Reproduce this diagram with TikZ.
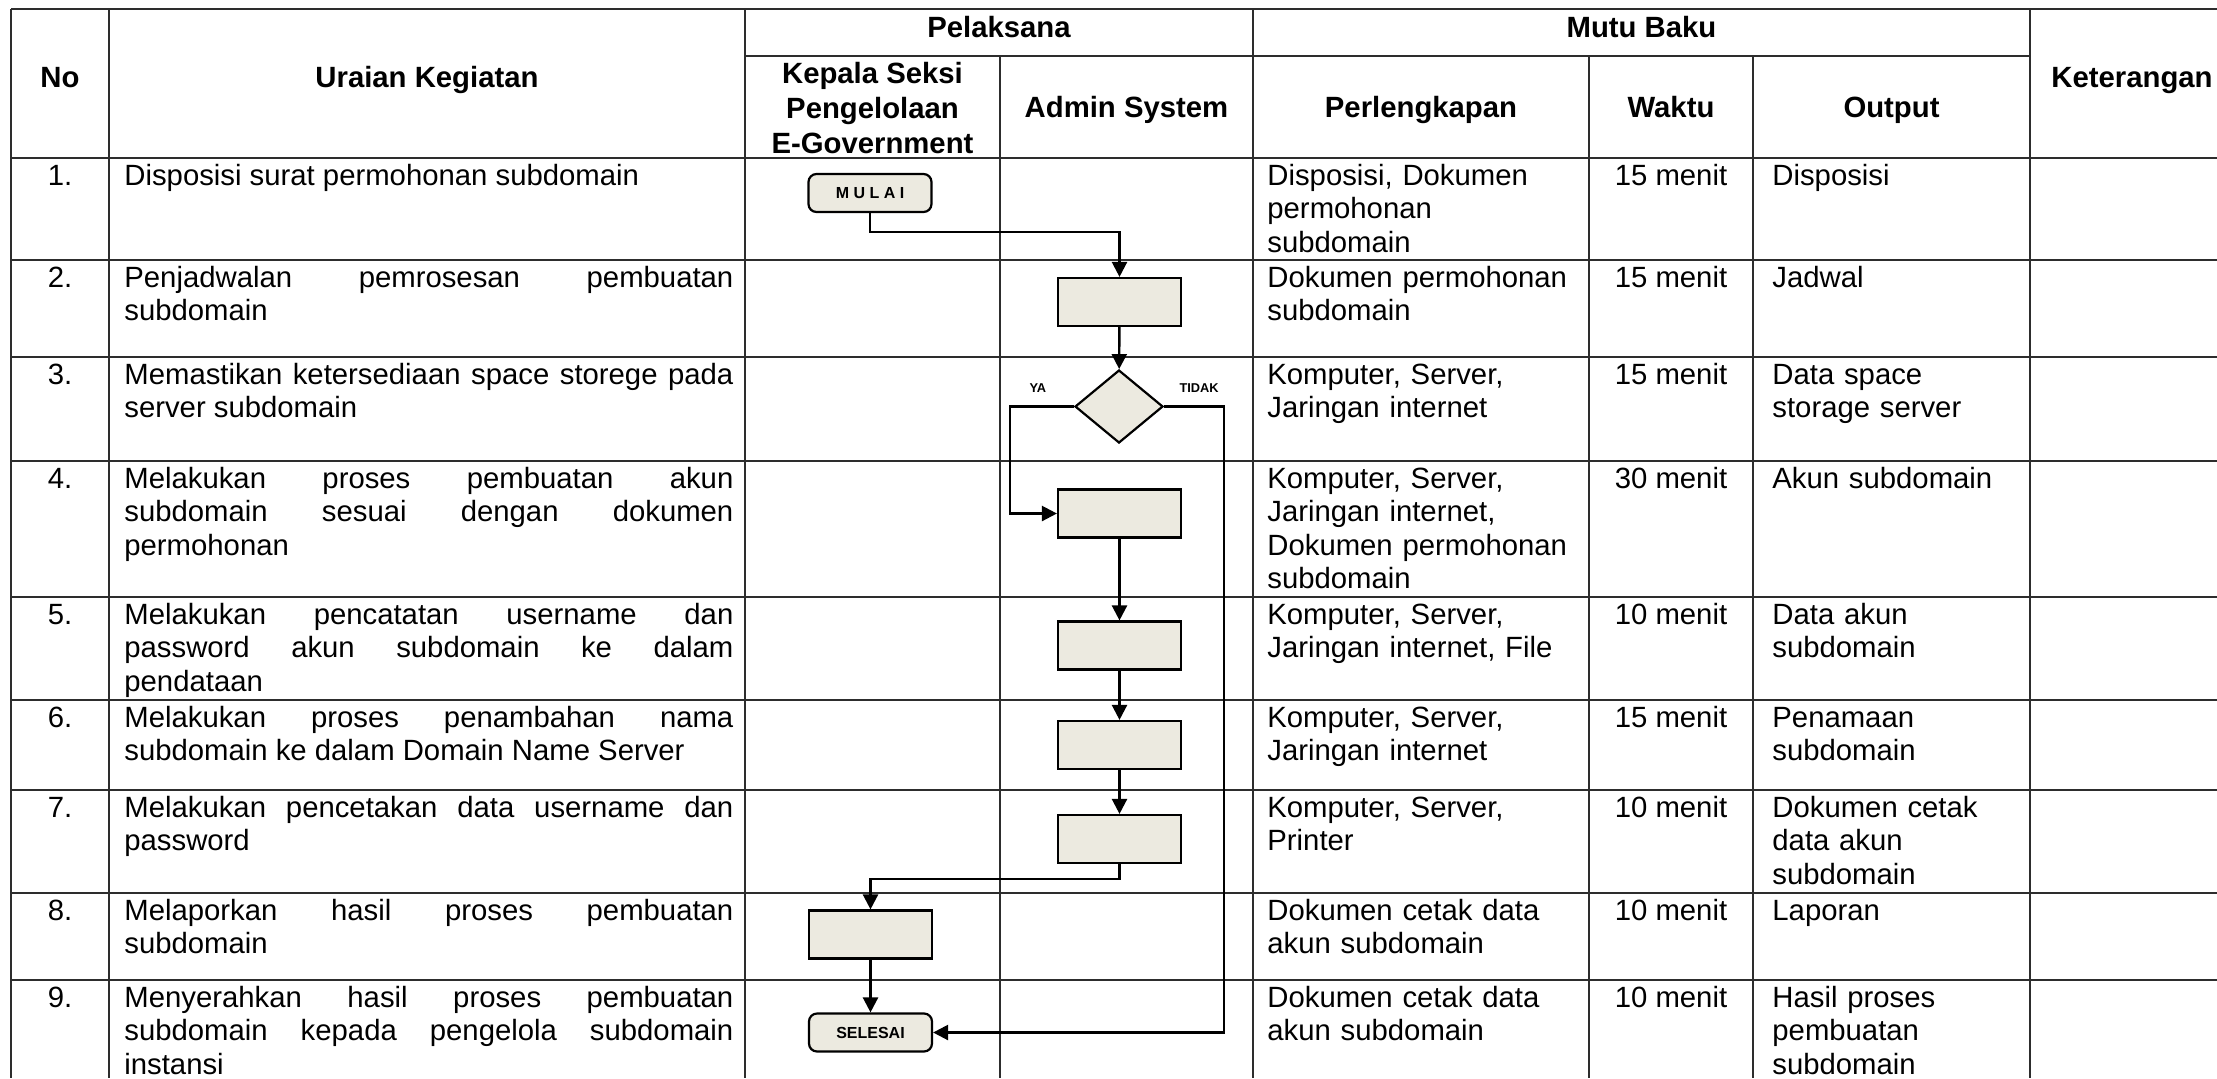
\documentclass[tikz,border=0pt]{standalone}
\usepackage{fontspec}
\setmainfont{Liberation Sans}
\usetikzlibrary{arrows.meta, shapes.geometric}
\definecolor{isian}{RGB}{236,234,224}
\definecolor{garis}{RGB}{45,45,45}
\hyphenpenalty=10000
\exhyphenpenalty=10000
\hbadness=10000
\tikzset{
    tabel/.style={draw=garis, line width=0.9pt},
    isi/.style={inner sep=0pt, font=\fontsize{14.65pt}{16.75pt}\selectfont},
    judul/.style={isi, font=\fontsize{14.65pt}{17.5pt}\selectfont\bfseries},
    uraian/.style={isi, text width=304.5pt, align=justify, anchor=base west},
    lengkap/.style={isi, text width=160pt, align=left, anchor=base west},
    hasil/.style={isi, text width=128pt, align=left, anchor=base west}
}
\tikzset{
    proses/.style={draw, line width=1.1pt, fill=isian, minimum width=61.5pt, minimum height=24pt, inner sep=0pt},
    terminal/.style={proses, rounded corners=4pt, minimum height=19pt, font=\fontsize{8pt}{9pt}\selectfont\bfseries},
    keputusan/.style={proses, diamond, minimum width=44pt, minimum height=36.5pt},
    alur/.style={draw, line width=1.2pt, -{Triangle[length=7.5pt,width=7.5pt]}},
    cabang/.style={inner sep=0pt, font=\fontsize{6.4pt}{7pt}\selectfont\bfseries}
}

\begin{document}
\begin{tikzpicture}[x=0.5pt, y=-0.5pt]
    \useasboundingbox (0,0) rectangle (2217,1078);
    \def \kiri {11}
    \def \kanan {2217}
    \def \bawah {1078}
    \def \turun {27}
    % garis tabel
    \draw[tabel] (\kiri,9) -- (\kanan,9);
    \draw[tabel] (745,56) -- (2030,56);
    \foreach \y in {158,260,357,461,597,700,790,893,980}{
    \draw[tabel] (\kiri,\y) -- (\kanan,\y);}
    \foreach \x in {11,109,745,1253,2030}{
    \draw[tabel] (\x,9) -- (\x,\bawah);}
    \foreach \x in {1000,1589,1753}{
    \draw[tabel] (\x,56) -- (\x,\bawah);}
    % kepala tabel
    \node[judul, anchor=base] (hno) at (60,87) {No};
    \node[judul, anchor=base] (huraian) at (427,87) {Uraian Kegiatan};
    \node[judul, anchor=base] (hpelaksana) at (999,37) {Pelaksana};
    \node[judul, anchor=base] (hmutu) at (1641.5,37) {Mutu Baku};
    \node[judul, anchor=base] (hket) at (2132,87) {Keterangan};
    \node[judul, align=center] (hkasi) at (872.5,108) {Kepala Seksi\\Pengelolaan\\E-Government};
    \node[judul, anchor=base] (hadmin) at (1126.5,117) {Admin System};
    \node[judul, anchor=base] (hlengkap) at (1421,117) {Perlengkapan};
    \node[judul, anchor=base] (hwaktu) at (1671,117) {Waktu};
    \node[judul, anchor=base] (houtput) at (1891.5,117) {Output};
    % isi tabel
    \foreach \i/\y/\w in {1/158/15, 2/260/15, 3/357/15, 4/461/30, 5/597/10, 6/700/15, 7/790/10, 8/893/10, 9/980/10}{
    \node[isi, anchor=base] (no\i) at (60,\y+\turun) {\i.};
    \node[isi, anchor=base] (waktu\i) at (1671,\y+\turun) {\w{} menit};}
    \node[uraian] (u1) at (124,158+\turun) {Disposisi surat permohonan subdomain};
    \node[uraian] (u2) at (124,260+\turun) {Penjadwalan pemrosesan pembuatan\linebreak subdomain};
    \node[uraian] (u3) at (124,357+\turun) {Memastikan ketersediaan space storege pada\linebreak server subdomain};
    \node[uraian] (u4) at (124,461+\turun) {Melakukan proses pembuatan akun\linebreak subdomain sesuai dengan dokumen\linebreak permohonan};
    \node[uraian] (u5) at (124,597+\turun) {Melakukan pencatatan username dan\linebreak password akun subdomain ke dalam\linebreak pendataan};
    \node[uraian] (u6) at (124,700+\turun) {Melakukan proses penambahan nama\linebreak subdomain ke dalam Domain Name Server};
    \node[uraian] (u7) at (124,790+\turun) {Melakukan pencetakan data username dan\linebreak password};
    \node[uraian] (u8) at (124,893+\turun) {Melaporkan hasil proses pembuatan\linebreak subdomain};
    \node[uraian] (u9) at (124,980+\turun) {Menyerahkan hasil proses pembuatan\linebreak subdomain kepada pengelola subdomain\linebreak instansi};
    \node[lengkap] (l1) at (1267,158+\turun) {Disposisi, Dokumen\\permohonan\\subdomain};
    \node[lengkap] (l2) at (1267,260+\turun) {Dokumen permohonan\\subdomain};
    \node[lengkap] (l3) at (1267,357+\turun) {Komputer, Server,\\Jaringan internet};
    \node[lengkap] (l4) at (1267,461+\turun) {Komputer, Server,\\Jaringan internet,\\Dokumen permohonan\\subdomain};
    \node[lengkap] (l5) at (1267,597+\turun) {Komputer, Server,\\Jaringan internet, File};
    \node[lengkap] (l6) at (1267,700+\turun) {Komputer, Server,\\Jaringan internet};
    \node[lengkap] (l7) at (1267,790+\turun) {Komputer, Server,\\Printer};
    \node[lengkap] (l8) at (1267,893+\turun) {Dokumen cetak data\\akun subdomain};
    \node[lengkap] (l9) at (1267,980+\turun) {Dokumen cetak data\\akun subdomain};
    \node[hasil] (o1) at (1772,158+\turun) {Disposisi};
    \node[hasil] (o2) at (1772,260+\turun) {Jadwal};
    \node[hasil] (o3) at (1772,357+\turun) {Data space\\storage server};
    \node[hasil] (o4) at (1772,461+\turun) {Akun subdomain};
    \node[hasil] (o5) at (1772,597+\turun) {Data akun\\subdomain};
    \node[hasil] (o6) at (1772,700+\turun) {Penamaan\\subdomain};
    \node[hasil] (o7) at (1772,790+\turun) {Dokumen cetak\\data akun\\subdomain};
    \node[hasil] (o8) at (1772,893+\turun) {Laporan};
    \node[hasil] (o9) at (1772,980+\turun) {Hasil proses\\pembuatan\\subdomain};
    % bagan alir
    \node[terminal] (mulai) at (870,193) {M U L A I};
    \node[proses] (p2) at (1119.5,302) {};
    \node[keputusan] (cek) at (1119,406.5) {};
    \node[proses] (p4) at (1119.5,513.5) {};
    \node[proses] (p5) at (1119.5,645.5) {};
    \node[proses] (p6) at (1119.5,745) {};
    \node[proses] (p7) at (1119.5,839) {};
    \node[proses] (p8) at (870.5,934.5) {};
    \node[terminal] (selesai) at (870.5,1032.5) {SELESAI};
    \node[cabang] (ya) at ([shift={(-36,-18)}]cek.west) {YA};
    \node[cabang] (tidak) at ([shift={(35,-18)}]cek.east) {TIDAK};
    \draw[alur] (mulai.south) -- ++(0,19) -| (p2.north);
    \draw[alur] (p2) -- (cek);
    \draw[alur] (cek.west) -- ++(-64,0) |- (p4.west);
    \draw[alur] (cek.east) -- ++(60,0) |- (selesai.east);
    \draw[alur] (p4) -- (p5);
    \draw[alur] (p5) -- (p6);
    \draw[alur] (p6) -- (p7);
    \draw[alur] (p7.south) -- ++(0,15) -| (p8.north);
    \draw[alur] (p8) -- (selesai);
\end{tikzpicture}
\end{document}
